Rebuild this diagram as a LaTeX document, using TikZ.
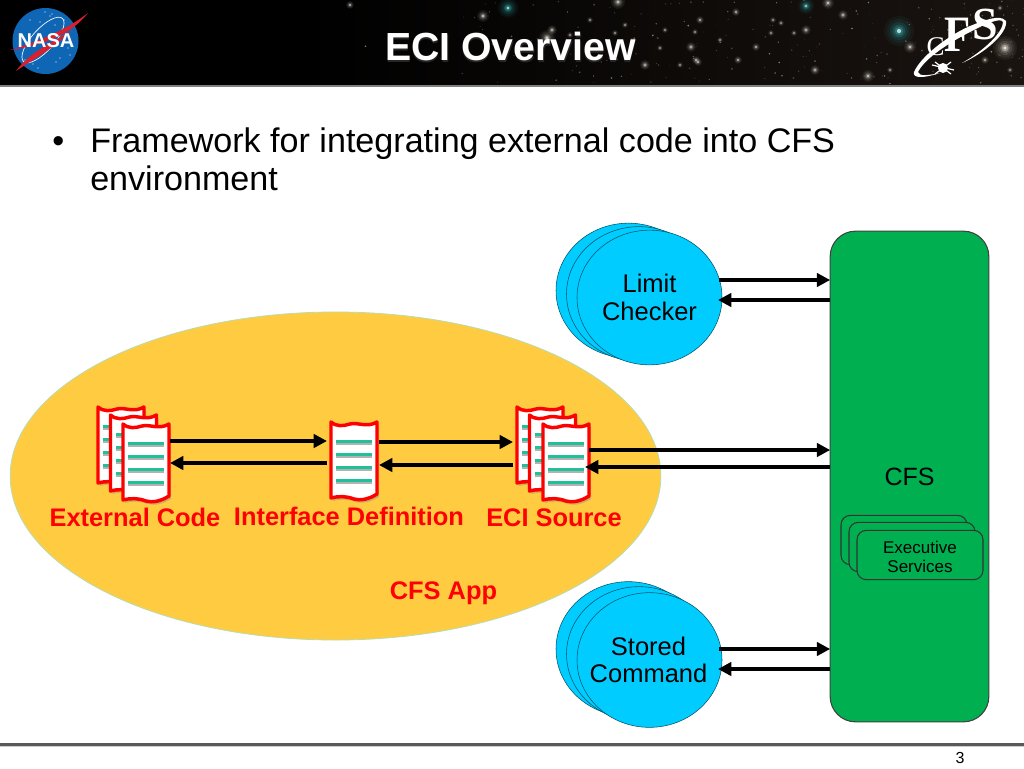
\documentclass[tikz,border=0pt]{standalone}
\usepackage{fontspec}
\setmainfont{Liberation Sans}
\newfontfamily\serifbf{Liberation Serif}
\usetikzlibrary{arrows.meta,calc,shapes.geometric}
\definecolor{hdrR}{HTML}{1A1410}
\definecolor{yel}{HTML}{FFCC41}
\definecolor{yeledge}{HTML}{B8DCB0}
\definecolor{cyanb}{HTML}{00CCFF}
\definecolor{grn}{HTML}{00B050}
\definecolor{rd}{HTML}{FF0000}
\definecolor{teal1}{HTML}{1FC09A}
\definecolor{nasab}{HTML}{0F66B4}
\definecolor{nasar}{HTML}{D8202F}
\definecolor{stt}{HTML}{30B0B0}
\definecolor{stw}{HTML}{E8E4D8}
\newcommand{\fpx}[1]{\fontsize{\dimexpr#1pt*3/4\relax}{\dimexpr#1pt*9/10\relax}\selectfont}
\newcommand{\glowstar}[4]{%
 \fill[#4,opacity=.06] (#1,#2) circle[radius=#3];
 \fill[#4,opacity=.08] (#1,#2) circle[radius=#3*.8];
 \fill[#4,opacity=.12] (#1,#2) circle[radius=#3*.6];
 \fill[#4,opacity=.22] (#1,#2) circle[radius=#3*.42];
 \fill[#4,opacity=.4] (#1,#2) circle[radius=#3*.28];
 \fill[white,opacity=.7] (#1,#2) circle[radius=#3*.14];}
\newcommand{\docsheet}[2]{%
 \begin{scope}[shift={(#1,#2)}]
  \path[fill=black!45,opacity=.45] (2,3) .. controls (8,8) and (14,7) .. (21,5) .. controls (29,3) and (38,9) .. (48,3) -- (48,75) .. controls (40,80) and (32,82) .. (25,80) .. controls (17,77) and (10,77) .. (2,79) -- cycle;
  \draw[docline] (0,0) .. controls (6,5) and (12,4) .. (19,2) .. controls (27,0) and (36,6) .. (46,0) -- (46,72) .. controls (38,77) and (30,79) .. (23,77) .. controls (15,74) and (8,74) .. (0,76) -- cycle;
  \foreach \yy in {20,33,46,59}{
   \fill[black!30] (5,\yy+.5) rectangle (41,\yy+3);
   \fill[teal1] (5,\yy-2) rectangle (41,\yy+.8);
  }
 \end{scope}}
\tikzset{
 x=0.75pt,y=-0.75pt,
 docline/.style={draw=rd,fill=white,line width=2.6pt,line join=round},
 flow/.style={line width=3.5pt,draw=black,-{Triangle[length=10pt,width=10pt]}},
 anchorbox/.style={minimum width=34.5pt,minimum height=58pt,inner sep=0pt,outer sep=0pt},
 bubble/.style={ellipse,draw=black!60!cyanb,line width=.4pt,fill=cyanb,minimum width=108.75pt,minimum height=101pt,inner sep=0pt,outer sep=0pt},
 execbox/.style={draw=black!80,line width=.8pt,fill=grn,rounded corners=7pt,minimum width=94.5pt,minimum height=37pt,inner sep=0pt,outer sep=0pt},
 cfsbox/.style={draw=black!75,line width=.8pt,fill=grn,rounded corners=19pt,minimum width=119pt,minimum height=368pt,inner sep=0pt,outer sep=0pt},
 lab/.style={text=rd,font=\fpx{25.4}\bfseries,inner sep=0pt},
 bubbletext/.style={font=\fpx{25.5},align=center,inner sep=0pt},
}
\begin{document}
\begin{tikzpicture}
\useasboundingbox (0,0) rectangle (1024,768);
\fill[white] (0,0) rectangle (1024,768);
% header band
\fill[black] (0,0) rectangle (300,85);
\shade[left color=black,right color=hdrR] (300,0) rectangle (1024,85);
\fill[black!50] (0,85) rectangle (1024,87);
\pgfmathsetseed{4242}
\foreach \i in {1,...,220}{
 \pgfmathsetmacro{\sx}{310+714*sqrt(rnd)}
 \pgfmathsetmacro{\sy}{rnd*84}
 \pgfmathsetmacro{\sr}{0.3+0.7*rnd}
 \pgfmathsetmacro{\so}{15+40*rnd}
 \fill[stw,opacity=\so/100] (\sx,\sy) circle[radius=\sr];
}
\foreach \gx/\gy/\gr in {483/16/6,618/2/7,547/38/8,552/30/5,350/5/4,615/33/3,570/35/3,645/65/5,698/62/4,700/20/4,
 843/15/5,828/3/6,806/30/5,794/33/3,781/23/3,773/20/3,736/12/4,691/47/5,738/60/4,695/32/3,696/60/4,815/70/5,868/76/6,756/47/4,771/33/3,
 910/47/6,680/65/3,665/30/3,720/40/3,985/60/4,1010/70/3,1000/8/3,890/70/3,660/48/3,625/25/3,590/20/3}{
 \glowstar{\gx}{\gy}{\gr}{stw}
}
\glowstar{508}{8}{10}{stt}
\glowstar{806}{6}{8}{stt}
\glowstar{899}{31}{15}{stt}
\glowstar{1005}{48}{12}{stw}
% title
\node[text=black!85,font=\fpx{39.2}\bfseries,inner sep=0pt] at (511,48) {ECI Overview};
\node[text=white,font=\fpx{39.2}\bfseries,inner sep=0pt] (title) at (510.5,46.5) {ECI Overview};
% NASA logo
\fill[nasab] (45.5,41) circle[radius=33];
\foreach \px/\py in {40/22,50/16,55/25,62/30,30/20,68/48,60/58,33/64,25/60,52/14,70/55,45/12,64/20,38/68,56/62}{\fill[white] (\px,\py) circle[radius=.7];}
\draw[white,line width=.5pt,rotate around={48:(43,40)}] (43,40) ellipse[x radius=29,y radius=11];
\fill[nasar] (88,13) .. controls (70,36) and (40,46) .. (10,50) .. controls (38,42) and (66,30) .. cycle;
\fill[nasar] (72,30) .. controls (52,50) and (32,60) .. (16,71) .. controls (30,52) and (50,44) .. cycle;
\node[text=white,font=\fpx{20}\bfseries,inner sep=0pt] (nasa) at (46,41) {NASA};
% CFS logo
\fill[white] (1006,21) .. controls (1000,14) and (985,20) .. (970,26) .. controls (945,37) and (920,58) .. (914,72) .. controls (912,79) and (925,78) .. (940,73) .. controls (930,75) and (919,77) .. (918,72) .. controls (925,58) and (950,42) .. (972,31) .. controls (985,24) and (1001,17) .. (1003,22) .. controls (1003,32) and (985,50) .. (962,63) .. controls (985,53) and (1008,33) .. (1006,21) -- cycle;
\node[text=white,font=\serifbf\fpx{27},inner sep=0pt] (clet) at (935.5,47) {C};
\node[text=white,font=\serifbf\bfseries\fpx{51},inner sep=0pt,xscale=.84,transform shape] (flet) at (958,35) {F};
\node[text=white,font=\serifbf\bfseries\fpx{46},inner sep=0pt] (slet) at (985,24) {S};
\fill[white] (943,68) circle[radius=5];
\draw[white,line width=.9pt] (935,62) -- (951,74) (951,62) -- (935,74) (932,65) -- (954,70);
% bullet
\node[font=\fpx{34.1},inner sep=0pt,anchor=base west] (bul) at (52,152) {•};
\node[font=\fpx{34.1},inner sep=0pt,anchor=base west,align=left] (b1) at (90,152) {Framework for integrating external code into CFS};
\node[font=\fpx{34.1},inner sep=0pt,anchor=base west,align=left] (b2) at (90,190) {environment};
% app ellipse
\node[ellipse,draw=yeledge,line width=.6pt,fill=yel,minimum width=488pt,minimum height=246pt,inner sep=0pt] (app) at (335.5,476) {};
% CFS box
\node[cfsbox] (cfs) at (909.5,476.5) {};
\node[font=\fpx{25},inner sep=0pt] (cfslab) at (909.5,477) {CFS};
\node[execbox] at (904,540) {};
\node[execbox] at (912,547) {};
\node[execbox] (exec) at (920,555) {};
\node[align=center,font=\fpx{17},inner sep=0pt] (exectext) at (920,557) {Executive\\[-1.2pt]Services};
% bubbles
\node[bubble] at (628.5,290.5) {};
\node[bubble] at (639,294) {};
\node[bubble] (limit) at (649.5,297.5) {};
\node[bubbletext] (limittext) at (limit) {Limit\\[-2.4pt]Checker};
\node[bubble] at (628.5,649) {};
\node[bubble] at (639,654) {};
\node[bubble] (stored) at (649.5,660) {};
\node[bubbletext] (storedtext) at (648.5,660) {Stored\\[-2.4pt]Command};
% documents
\docsheet{98}{407}\docsheet{110.5}{415}\docsheet{123}{424}
\node[anchorbox] (ext) at (147,462) {};
\docsheet{331}{422}
\node[anchorbox,minimum width=39pt] (iface) at (353,460) {};
\docsheet{517}{407}\docsheet{529.5}{415}\docsheet{543}{424}
\node[anchorbox,minimum width=57pt] (eci) at (551,462) {};
% connectors
\coordinate (r1) at (0,441); \coordinate (r2) at (0,463);
\coordinate (r3) at (0,442); \coordinate (r4) at (0,465);
\coordinate (r5) at (0,450); \coordinate (r6) at (0,467);
\coordinate (r7) at (0,280); \coordinate (r8) at (0,300);
\coordinate (r9) at (0,649); \coordinate (r10) at (0,669);
\draw[flow] (ext.east |- r1) -- (iface.west |- r1);
\draw[flow] (iface.west |- r2) -- (ext.east |- r2);
\draw[flow] (iface.east |- r3) -- (eci.west |- r3);
\draw[flow] (eci.west |- r4) -- (iface.east |- r4);
\draw[flow] (eci.east |- r5) -- (cfs.west |- r5);
\draw[flow,shorten >=-3pt] (cfs.west |- r6) -- (eci.east |- r6);
\draw[flow,shorten <=-2pt] (limit.east |- r7) -- (cfs.west |- r7);
\draw[flow,shorten >=-3pt] (cfs.west |- r8) -- (limit.east |- r8);
\draw[flow,shorten <=-2pt] (stored.east |- r9) -- (cfs.west |- r9);
\draw[flow,shorten >=-3pt] (cfs.west |- r10) -- (stored.east |- r10);
% labels
\node[lab] (l1) at (135,517.5) {External Code};
\node[lab] (l2) at (349,516) {Interface Definition};
\node[lab] (l3) at (554,518) {ECI Source};
\node[lab] (l4) at (443.5,593.5) {CFS App};
% footer
\fill[black!65] (0,743) rectangle (1024,745.5);
\fill[black!20] (0,745.5) rectangle (1024,747);
\node[font=\fpx{16},inner sep=0pt] (pg) at (960,758) {3};
\end{tikzpicture}
\end{document}
